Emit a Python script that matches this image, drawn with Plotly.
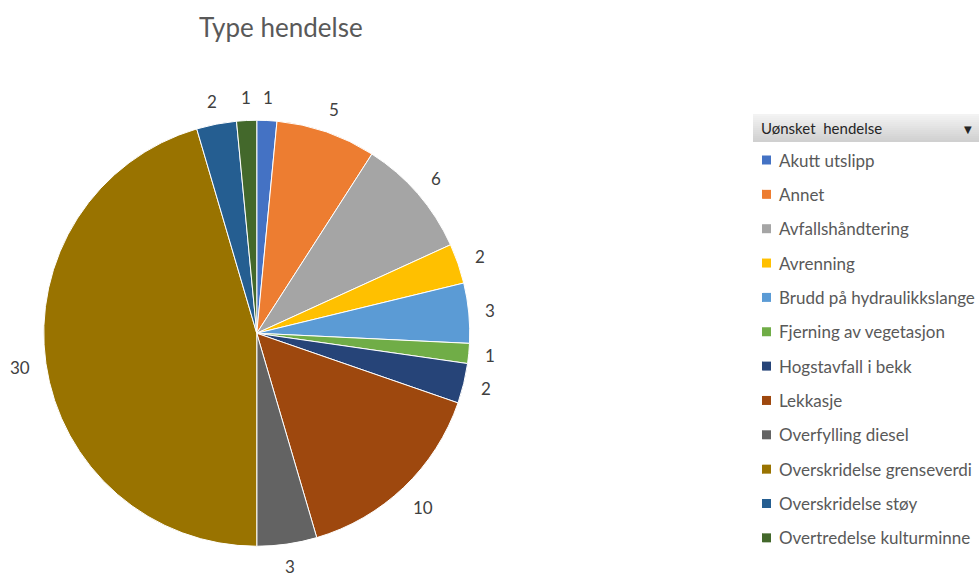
import math
import plotly.graph_objects as go

categories = ["Akutt utslipp", "Annet", "Avfallshåndtering", "Avrenning",
              "Brudd på hydraulikkslange", "Fjerning av vegetasjon",
              "Hogstavfall i bekk", "Lekkasje", "Overfylling diesel",
              "Overskridelse grenseverdi", "Overskridelse støy",
              "Overtredelse kulturminne"]
values = [1, 5, 6, 2, 3, 1, 2, 10, 3, 30, 2, 1]
colors = ["#4472C4", "#ED7D31", "#A5A5A5", "#FFC000", "#5B9BD5", "#70AD47",
          "#264478", "#9E480E", "#636363", "#997300", "#255E91", "#43682B"]
title_text = "Type hendelse"
legend_header = "Uønsket  hendelse"

W, H = 979, 577
FONT = "Lato"
cx, cy, R = 256.75, 333.25, 213.0


def px(x):
    return x / W


def py(y):
    return 1 - y / H


fig = go.Figure(go.Pie(
    labels=categories, values=values, sort=False, direction="clockwise",
    rotation=0, textinfo="none", hoverinfo="label+value",
    marker=dict(colors=colors, line=dict(color="white", width=1)),
    domain=dict(x=[px(cx - R), px(cx + R)], y=[py(cy + R), py(cy - R)]),
    showlegend=False,
))

annotations = []
shapes = []

# data labels computed from cumulative values
total = sum(values)
cum = 0
for v in values:
    mid = (cum + v / 2) / total * 2 * math.pi
    cum += v
    ux, uy = math.sin(mid), -math.cos(mid)
    txt = str(v)
    hw = 4.7 * len(txt)
    hh = 6
    d = 229.5 + abs(ux) * hw + abs(uy) * hh
    annotations.append(dict(
        x=px(cx + ux * d), y=py(cy + uy * d), xref="paper", yref="paper",
        text=txt, showarrow=False, xanchor="center", yanchor="middle",
        font=dict(family=FONT, size=17, color="#404040")))

# title
annotations.append(dict(
    x=px(281), y=py(27), xref="paper", yref="paper", text=title_text,
    showarrow=False, xanchor="center", yanchor="middle",
    font=dict(family=FONT, size=26, color="#595959")))

# legend header with gradient
top, bot = 114, 142
n_strips = 14
for i in range(n_strips):
    t = i / (n_strips - 1)
    g = int(round(243 - t * (243 - 208)))
    y0 = top + (bot - top) * i / n_strips
    y1 = top + (bot - top) * (i + 1) / n_strips
    shapes.append(dict(type="rect", xref="paper", yref="paper",
                       x0=px(753), x1=1, y0=py(y1), y1=py(y0),
                       fillcolor=f"rgb({g},{g},{g})", line=dict(width=0),
                       layer="below"))
annotations.append(dict(
    x=px(759), y=py(128), xref="paper", yref="paper", text=legend_header,
    showarrow=False, xanchor="left", yanchor="middle",
    font=dict(family=FONT, size=15, color="#262626")))
annotations.append(dict(
    x=px(968), y=py(129), xref="paper", yref="paper", text="▼",
    showarrow=False, xanchor="center", yanchor="middle",
    font=dict(family="DejaVu Sans", size=10, color="#262626")))

# legend entries
for i, (name, col) in enumerate(zip(categories, colors)):
    yc = 160 + 34.35 * i
    shapes.append(dict(type="rect", xref="paper", yref="paper",
                       x0=px(762), x1=px(771), y0=py(yc + 4.5), y1=py(yc - 4.5),
                       fillcolor=col, line=dict(width=0)))
    annotations.append(dict(
        x=px(777), y=py(yc), xref="paper", yref="paper", text=name,
        showarrow=False, xanchor="left", yanchor="middle",
        font=dict(family=FONT, size=17, color="#595959")))

fig.update_layout(
    width=W, height=H, margin=dict(l=0, r=0, t=0, b=0),
    paper_bgcolor="white", plot_bgcolor="white",
    annotations=annotations, shapes=shapes, showlegend=False,
)

fig.write_html("out.html", config={"displayModeBar": False},
               post_script="document.body.style.margin='0';"
                           "document.body.style.overflow='hidden';")
